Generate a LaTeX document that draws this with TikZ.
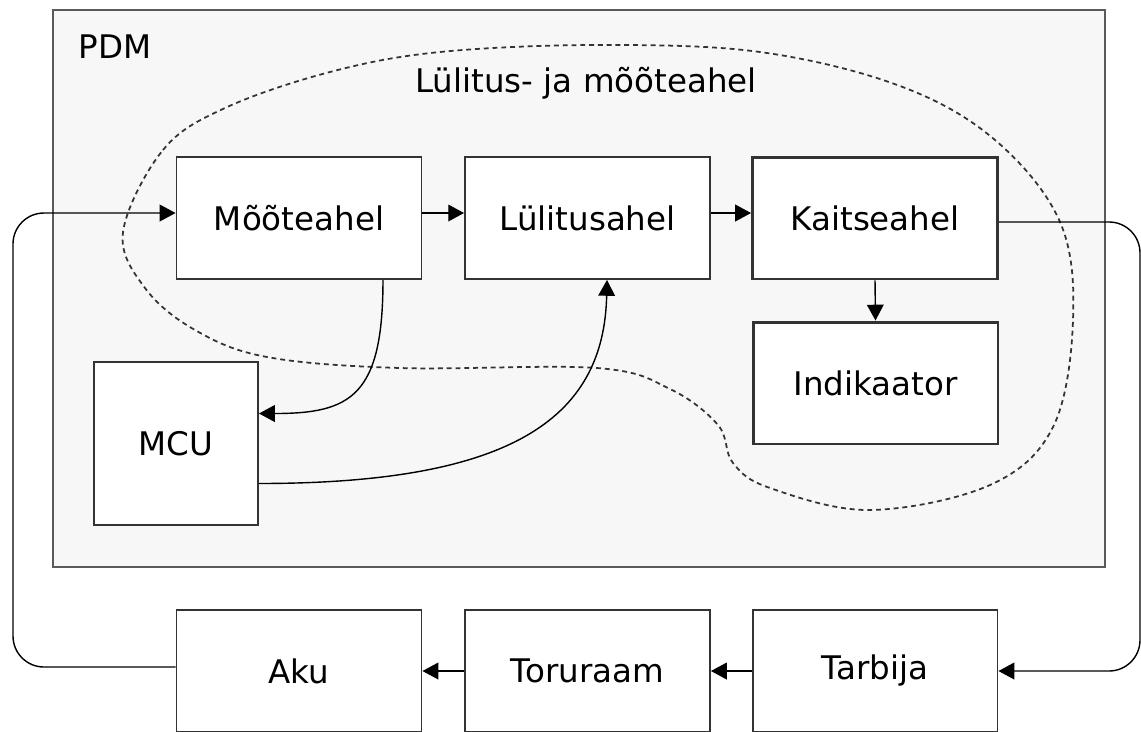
\documentclass[tikz,border=0pt]{standalone}
\usepackage{fontspec}
\setmainfont{DejaVu Sans}
\usetikzlibrary{positioning, arrows.meta, calc}
\definecolor{pdmfill}{RGB}{247,247,247}
\definecolor{joon}{RGB}{51,51,51}
\definecolor{servgray}{RGB}{90,90,90}

\begin{document}
\begin{tikzpicture}[x=0.02cm, y=-0.02cm,
    font=\fontsize{18.5}{22}\selectfont,
    blok/.style={draw=joon, fill=white, line width=1.1pt,
                 minimum width=4.9cm, minimum height=2.44cm, inner sep=0pt},
    paks/.style={blok, line width=1.7pt},
    nool/.style={draw=black, line width=0.8pt,
                 -{Triangle[length=9pt, width=9.5pt]}}]
        \useasboundingbox (0,0) rectangle (1141,731);
        % PDM container
        \node[draw=servgray, fill=pdmfill, line width=1pt,
              minimum width=21.04cm, minimum height=11.14cm] (pdm) at (579,288.5) {};
        \node (pdmlbl) at (115,47) {PDM};
        % switching and measuring circuit outline
        \draw[black!80, line width=1pt, dash pattern=on 2.8pt off 2.2pt]
          plot[smooth cycle, tension=0.6] coordinates {
            (123,232) (163,150) (225,108) (330,72) (440,52) (600,45) (760,52)
            (900,86) (995,140) (1060,222) (1073,320) (1053,427) (990,485)
            (870,510) (770,488) (733,463) (718,425) (670,389) (597,368)
            (400,368) (267,357) (195,330) (145,288)};
        \node (ahel) at (586,83) {Lülitus- ja mõõteahel};
        % top row
        \node[blok] (moot) at (299,218) {Mõõteahel};
        \node[blok] (lul) at (587.5,218) {Lülitusahel};
        \node[paks] (kait) at (875,218) {Kaitseahel};
        \node[paks] (ind) at (875.5,383) {Indikaator};
        \node[blok, minimum width=3.28cm, minimum height=3.26cm] (mcu) at (176,443.5) {MCU};
        % bottom row
        \node[blok] (aku) at (299,671) {Aku};
        \node[blok] (toru) at (587.5,671) {Toruraam};
        \node[blok] (tarb) at (875,671) {Tarbija};
        \coordinate (vasak) at (13,440);
        \coordinate (parem) at (1140,440);
        % connectors
        \draw[nool] ([yshift=0.1cm]moot.east) -- ([yshift=0.1cm]lul.west);
        \draw[nool] ([yshift=0.1cm]lul.east) -- ([yshift=0.1cm]kait.west);
        \draw[nool] (kait.south) -- (ind.north);
        \draw[nool] ([xshift=1.68cm]moot.south) .. controls +(0,116) and +(92,0) .. ([yshift=0.6cm]mcu.east);
        \draw[nool] ([yshift=-0.8cm]mcu.east) .. controls +(250,0) and +(-3,140) .. ([xshift=0.39cm]lul.south);
        \draw[nool] (tarb.west) -- (toru.east);
        \draw[nool] (toru.west) -- (aku.east);
        \draw[nool, rounded corners=0.62cm] ([yshift=0.08cm]aku.west) -| (vasak) |- ([yshift=0.1cm]moot.west);
        \draw[nool, rounded corners=0.62cm] ([yshift=-0.08cm]kait.east) -| (parem) |- (tarb.east);
\end{tikzpicture}
\end{document}
